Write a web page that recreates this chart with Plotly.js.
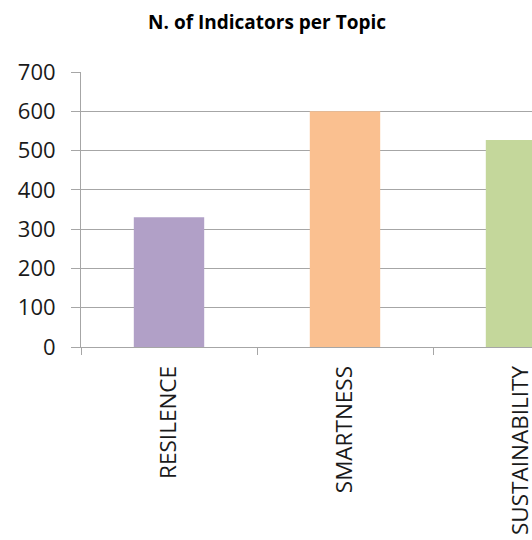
<!DOCTYPE html>
<html>
<head>
<meta charset="utf-8">
<script src="https://cdn.plot.ly/plotly-3.0.1.min.js"></script>
<style>
  html, body { margin: 0; padding: 0; background: #fff; overflow: hidden; }
  #chart { width: 532px; height: 540px; }
</style>
</head>
<body>
<div id="chart"></div>
<script>
// Number of indicators collected for each topic
const topics = ['RESILENCE', 'SMARTNESS', 'SUSTAINABILITY'];
const indicatorCounts = [330, 600, 527];
const barColors = ['#b1a0c7', '#fac090', '#c4d79b'];
const yTicks = [0, 100, 200, 300, 400, 500, 600, 700];

const font = 'Open Sans, Lato, Liberation Sans, sans-serif';

const trace = {
  type: 'bar',
  x: topics,
  y: indicatorCounts,
  marker: { color: barColors, line: { width: 0 } },
  hoverinfo: 'x+y'
};

const layout = {
  width: 532,
  height: 540,
  margin: { l: 81, r: 0, t: 72, b: 193, pad: 0 },
  paper_bgcolor: '#ffffff',
  plot_bgcolor: '#ffffff',
  bargap: 0.6,
  showlegend: false,
  title: {
    text: '<b>N. of Indicators per Topic</b>',
    font: { family: font, size: 19, color: '#000' },
    x: 0.502, xanchor: 'center',
    y: 0.959, yanchor: 'middle',
    xref: 'container', yref: 'container'
  },
  xaxis: {
    type: 'category',
    range: [-0.5, 2.0625],
    showgrid: false,
    zeroline: false,
    showline: true,
    linecolor: '#a6a6a6',
    linewidth: 1,
    ticks: 'outside',
    tickson: 'boundaries',
    ticklen: 7,
    tickcolor: '#a6a6a6',
    tickangle: -90,
    ticklabelstandoff: 9,
    tickfont: { family: font, size: 22.5, color: '#1a1a1a' },
    fixedrange: true
  },
  yaxis: {
    range: [0, 700],
    tickvals: yTicks,
    ticktext: yTicks.map(String),
    showgrid: true,
    gridcolor: '#a6a6a6',
    gridwidth: 1,
    zeroline: false,
    showline: true,
    linecolor: '#a6a6a6',
    linewidth: 1,
    ticks: 'outside',
    ticklen: 9,
    tickcolor: '#a6a6a6',
    ticklabelstandoff: 11,
    tickfont: { family: font, size: 22, color: '#1a1a1a' },
    fixedrange: true
  }
};

Plotly.newPlot('chart', [trace], layout, { displayModeBar: false, staticPlot: true });
</script>
</body>
</html>
